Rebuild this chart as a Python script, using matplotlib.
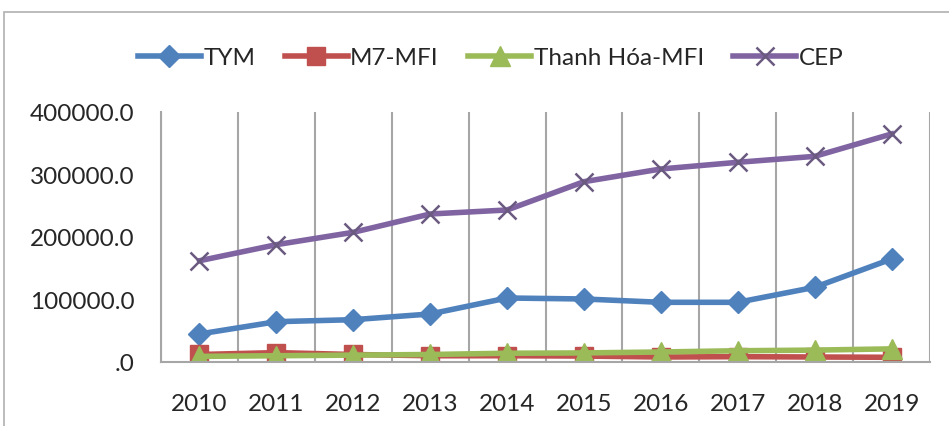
import matplotlib
matplotlib.use("Agg")
import matplotlib.pyplot as plt
from matplotlib.ticker import FuncFormatter, MultipleLocator
from matplotlib.patches import Rectangle

years = ['2010', '2011', '2012', '2013', '2014', '2015', '2016', '2017', '2018', '2019']
tym = [44800, 64500, 67700, 76800, 102400, 100800, 95500, 95500, 119500, 164800]
m7_mfi = [12000, 15000, 12000, 10000, 10000, 9500, 8000, 8500, 8000, 7500]
thanh_hoa_mfi = [9000, 10000, 11000, 12000, 14000, 14500, 16000, 18000, 19000, 21000]
cep = [162000, 187700, 207500, 236800, 243200, 288500, 308800, 319500, 329000, 364800]

plt.rcParams['font.family'] = ['Lato', 'DejaVu Sans']

fig = plt.figure(figsize=(9.49, 4.27), dpi=100)
ax = fig.add_axes([0.1697, 0.1499, 0.8103, 0.5855])

# outer chart frame, cropped at right and bottom like the source image
fig.patches.append(Rectangle((4 / 949, -0.1), 1.2, (427 - 13) / 427 + 0.1,
                             transform=fig.transFigure, fill=False,
                             edgecolor='#b0b0b0', linewidth=1.2))

x = list(range(len(years)))
lw = 4
ax.plot(x, tym, color='#4F81BD', lw=lw, marker='D', ms=11, label='TYM')
ax.plot(x, m7_mfi, color='#C0504D', lw=lw, marker='s', ms=13, label='M7-MFI')
ax.plot(x, thanh_hoa_mfi, color='#9BBB59', lw=lw, marker='^', ms=14, label='Thanh Hóa-MFI')
ax.plot(x, cep, color='#8064A2', lw=lw, marker='x', ms=13, mew=1.8, mec='#6a5a80', label='CEP')

ax.set_xlim(-0.5, 9.5)
ax.set_ylim(0, 400000)
ax.set_xticks(x)
ax.set_xticklabels(years)
ax.xaxis.set_minor_locator(MultipleLocator(1, offset=0.5))
ax.grid(which='minor', axis='x', color='#a6a6a6', lw=1.5)
ax.tick_params(axis='x', which='both', length=0, pad=22, labelsize=17.5, labelcolor='#262626')
ax.yaxis.set_major_locator(MultipleLocator(100000))
ax.yaxis.set_major_formatter(FuncFormatter(lambda v, p: ('%d' % v if v else '') + '.0'))
ax.tick_params(axis='y', length=0, pad=19, labelsize=17.5, labelcolor='#262626')

for s in ['top', 'right']:
    ax.spines[s].set_visible(False)
for s in ['left', 'bottom']:
    ax.spines[s].set_color('#a6a6a6')
    ax.spines[s].set_linewidth(1.5)

leg = fig.legend(loc='center', bbox_to_anchor=(0.517, 0.862), ncol=4, frameon=False,
                 fontsize=17.5, handlelength=2.6, columnspacing=1.2, handletextpad=0.1)
for t in leg.get_texts():
    t.set_color('#262626')

fig.savefig('out.png', dpi=100)
